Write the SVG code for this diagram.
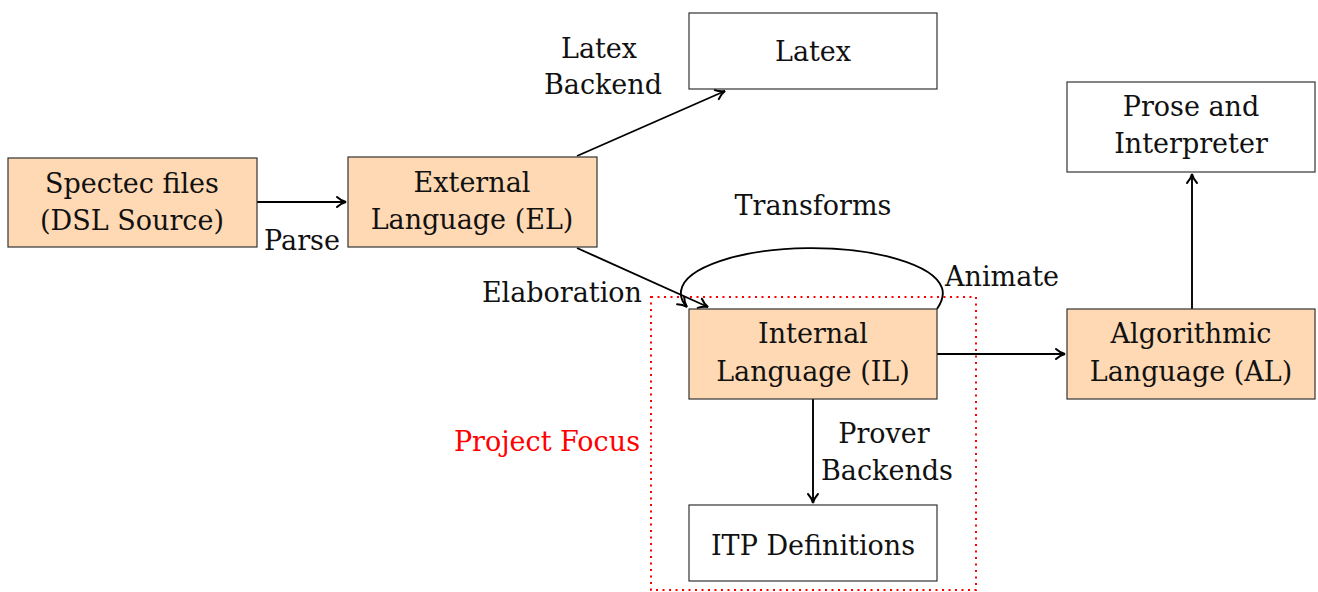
<svg xmlns="http://www.w3.org/2000/svg" width="1318" height="592" viewBox="0 0 1318 592">
<style>
  .box { stroke: #333; stroke-width: 1.2; }
  .hl { fill: #FFD9B3; }
  .pl { fill: #FFFFFF; }
  text { font-family: "DejaVu Serif", "Liberation Serif", serif; font-size: 27px; fill: #111; }
  .c { text-anchor: middle; }
  .r { text-anchor: end; }
  .red { fill: #FF0000; }
  .edge { fill: none; stroke: #000; stroke-width: 1.9; }
</style>
<defs>
  <marker id="arr" markerUnits="userSpaceOnUse" markerWidth="14" markerHeight="14" viewBox="-10 -7 12 14" refX="0" refY="0" orient="auto">
    <path d="M -9,-5 C -6,-2.2 -2.5,-0.6 0,0 C -2.5,0.6 -6,2.2 -9,5" fill="none" stroke="#000" stroke-width="2" stroke-linecap="round"/>
  </marker>
</defs>

<rect id="focus" x="651" y="297" width="325" height="293" fill="none" stroke="#FF0000" stroke-width="2" stroke-dasharray="2 4.5"/>

<g id="connectors">
  <line class="edge" x1="257" y1="202" x2="346" y2="202" marker-end="url(#arr)"/>
  <line class="edge" x1="577" y1="156" x2="725" y2="91" marker-end="url(#arr)"/>
  <line class="edge" x1="577" y1="248" x2="708" y2="307" marker-end="url(#arr)"/>
  <line class="edge" x1="937" y1="354" x2="1065" y2="354" marker-end="url(#arr)"/>
  <line class="edge" x1="813" y1="399" x2="813" y2="503" marker-end="url(#arr)"/>
  <line class="edge" x1="1192" y1="309" x2="1192" y2="174" marker-end="url(#arr)"/>
  <path class="edge" d="M 937 309 Q 945 297 942 288 A 131 45 0 0 0 681 291 Q 680 300 687 307" marker-end="url(#arr)"/>
</g>

<g id="labels">
  <text class="c" x="599" y="58">Latex</text>
  <text class="c" x="603" y="94">Backend</text>
  <text class="c" x="302" y="250">Parse</text>
  <text class="r" x="642" y="302">Elaboration</text>
  <text class="c" x="813" y="215">Transforms</text>
  <text x="945" y="286">Animate</text>
  <text class="c" x="884" y="443">Prover</text>
  <text class="c" x="887" y="480">Backends</text>
  <text class="r red" x="640" y="451">Project Focus</text>
</g>

<g id="spectec">
  <rect class="box hl" x="8" y="158" width="249" height="89"/>
  <text class="c" x="132" y="193">Spectec files</text>
  <text class="c" x="132" y="230">(DSL Source)</text>
</g>
<g id="el">
  <rect class="box hl" x="348" y="157" width="249" height="90"/>
  <text class="c" x="472" y="192">External</text>
  <text class="c" x="472" y="229">Language (EL)</text>
</g>
<g id="latex">
  <rect class="box pl" x="689" y="13" width="248" height="76"/>
  <text class="c" x="813" y="61">Latex</text>
</g>
<g id="prose">
  <rect class="box pl" x="1067" y="82" width="248" height="90"/>
  <text class="c" x="1191" y="116">Prose and</text>
  <text class="c" x="1191" y="153">Interpreter</text>
</g>
<g id="il">
  <rect class="box hl" x="689" y="309" width="248" height="90"/>
  <text class="c" x="813" y="343">Internal</text>
  <text class="c" x="813" y="381">Language (IL)</text>
</g>
<g id="al">
  <rect class="box hl" x="1067" y="309" width="248" height="90"/>
  <text class="c" x="1191" y="343">Algorithmic</text>
  <text class="c" x="1191" y="381">Language (AL)</text>
</g>
<g id="itp">
  <rect class="box pl" x="689" y="505" width="248" height="76"/>
  <text class="c" x="813" y="555">ITP Definitions</text>
</g>
</svg>
